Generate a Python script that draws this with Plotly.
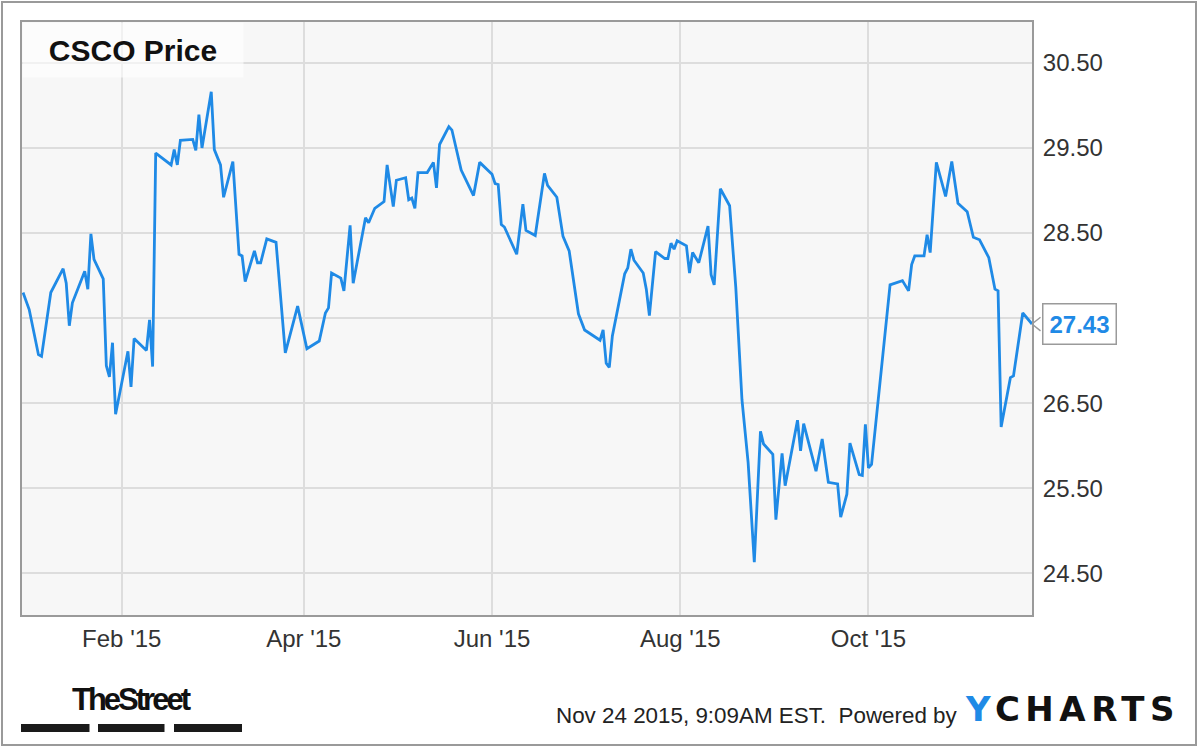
import plotly.graph_objects as go

# ---- data (CSCO daily price, Dec 2014 - Nov 2015) ----
dates = [
    "2014-12-31", "2015-01-02", "2015-01-05", "2015-01-06", "2015-01-09", "2015-01-13",
    "2015-01-14", "2015-01-15", "2015-01-16", "2015-01-20", "2015-01-21", "2015-01-22",
    "2015-01-23", "2015-01-26", "2015-01-27", "2015-01-28", "2015-01-29", "2015-01-30",
    "2015-02-03", "2015-02-04", "2015-02-05", "2015-02-09", "2015-02-10", "2015-02-11",
    "2015-02-12", "2015-02-17", "2015-02-18", "2015-02-19", "2015-02-20", "2015-02-24",
    "2015-02-25", "2015-02-26", "2015-02-27", "2015-03-02", "2015-03-03", "2015-03-05",
    "2015-03-06", "2015-03-09", "2015-03-11", "2015-03-12", "2015-03-13", "2015-03-16",
    "2015-03-17", "2015-03-18", "2015-03-20", "2015-03-23", "2015-03-26", "2015-03-30",
    "2015-04-02", "2015-04-06", "2015-04-08", "2015-04-09", "2015-04-10", "2015-04-13",
    "2015-04-14", "2015-04-16", "2015-04-17", "2015-04-21", "2015-04-22", "2015-04-24",
    "2015-04-27", "2015-04-28", "2015-04-30", "2015-05-01", "2015-05-04", "2015-05-05",
    "2015-05-06", "2015-05-07", "2015-05-08", "2015-05-11", "2015-05-13", "2015-05-14",
    "2015-05-15", "2015-05-18", "2015-05-19", "2015-05-22", "2015-05-26", "2015-05-28",
    "2015-06-01", "2015-06-02", "2015-06-03", "2015-06-04", "2015-06-05", "2015-06-09",
    "2015-06-11", "2015-06-12", "2015-06-15", "2015-06-18", "2015-06-19", "2015-06-22",
    "2015-06-24", "2015-06-26", "2015-06-29", "2015-07-01", "2015-07-06", "2015-07-07",
    "2015-07-08", "2015-07-09", "2015-07-10", "2015-07-14", "2015-07-15", "2015-07-16",
    "2015-07-17", "2015-07-20", "2015-07-21", "2015-07-22", "2015-07-24", "2015-07-27",
    "2015-07-28", "2015-07-29", "2015-07-30", "2015-07-31", "2015-08-03", "2015-08-04",
    "2015-08-05", "2015-08-07", "2015-08-10", "2015-08-11", "2015-08-12", "2015-08-14",
    "2015-08-17", "2015-08-19", "2015-08-21", "2015-08-23", "2015-08-25", "2015-08-27",
    "2015-08-28", "2015-08-31", "2015-09-01", "2015-09-03", "2015-09-04", "2015-09-08",
    "2015-09-09", "2015-09-10", "2015-09-14", "2015-09-16", "2015-09-18", "2015-09-21",
    "2015-09-22", "2015-09-24", "2015-09-25", "2015-09-28", "2015-09-29", "2015-09-30",
    "2015-10-01", "2015-10-02", "2015-10-08", "2015-10-12", "2015-10-14", "2015-10-15",
    "2015-10-16", "2015-10-19", "2015-10-20", "2015-10-21", "2015-10-23", "2015-10-26",
    "2015-10-28", "2015-10-30", "2015-11-02", "2015-11-04", "2015-11-06", "2015-11-09",
    "2015-11-11", "2015-11-12", "2015-11-13", "2015-11-16", "2015-11-17", "2015-11-20",
    "2015-11-23",
]
prices = [
    27.80, 27.60, 27.07, 27.05, 27.80, 28.08,
    27.91, 27.41, 27.68, 28.05, 27.84, 28.49,
    28.19, 27.96, 26.94, 26.81, 27.21, 26.37,
    27.11, 26.69, 27.26, 27.12, 27.48, 26.93,
    29.44, 29.30, 29.48, 29.30, 29.59, 29.60,
    29.47, 29.89, 29.50, 30.16, 29.48, 29.30,
    28.92, 29.34, 28.25, 28.23, 27.93, 28.29,
    28.15, 28.15, 28.43, 28.39, 27.09, 27.64,
    27.14, 27.23, 27.56, 27.62, 28.03, 27.97,
    27.82, 28.59, 27.91, 28.68, 28.62, 28.79,
    28.87, 29.30, 28.81, 29.12, 29.15, 28.89,
    28.91, 28.79, 29.21, 29.21, 29.33, 29.03,
    29.54, 29.75, 29.71, 29.24, 28.94, 29.33,
    29.19, 29.08, 29.07, 28.60, 28.57, 28.25,
    28.84, 28.53, 28.47, 29.20, 29.06, 28.92,
    28.46, 28.29, 27.55, 27.36, 27.24, 27.36,
    26.97, 26.92, 27.29, 28.02, 28.09, 28.31,
    28.18, 28.03, 27.84, 27.53, 28.28, 28.20,
    28.20, 28.38, 28.31, 28.41, 28.35, 28.03,
    28.27, 28.15, 28.58, 28.01, 27.89, 29.02,
    28.82, 27.86, 26.54, 25.80, 24.63, 26.17,
    26.02, 25.90, 25.13, 25.91, 25.53, 26.30,
    25.94, 26.26, 25.70, 26.08, 25.57, 25.55,
    25.16, 25.43, 26.03, 25.66, 25.65, 26.25,
    25.74, 25.78, 27.89, 27.94, 27.82, 28.13,
    28.23, 28.23, 28.48, 28.27, 29.33, 28.93,
    29.34, 28.85, 28.75, 28.45, 28.42, 28.21,
    27.84, 27.82, 26.22, 26.80, 26.82, 27.56,
    27.43,
]
y_ticks = [24.5, 25.5, 26.5, 27.5, 28.5, 29.5, 30.5]
y_tick_text = ["24.50", "25.50", "26.50", "", "28.50", "29.50", "30.50"]
title_text = "CSCO Price"
last_label = "27.43"
stamp_text = "Nov 24 2015, 9:09AM EST.  Powered by"

LINE = "#1f8ae6"
FONT = "Liberation Sans, Arial, sans-serif"

# plot-area geometry in pixels (for decorations only)
L, R, T, B = 22, 1032, 22, 615
def px(x):
    return (x - L) / (R - L)
def py(y):
    return (B - y) / (B - T)

fig = go.Figure()
fig.add_trace(go.Scatter(
    x=dates, y=prices, mode="lines",
    line=dict(color=LINE, width=2.8),
    hoverinfo="x+y", showlegend=False,
))

annotations = [
    # title box
    dict(xref="paper", yref="paper", x=0, y=1, xanchor="left", yanchor="top",
         text="<b>" + title_text + "</b>", showarrow=False,
         font=dict(family=FONT, size=30, color="#111111"),
         width=220, height=54, borderpad=0, bgcolor="rgba(255,255,255,0.6)"),
    # last value label
    dict(xref="paper", yref="y", x=1, y=prices[-1], xanchor="left", yanchor="middle",
         xshift=10, text="<b>" + last_label + "</b>", showarrow=False,
         font=dict(family=FONT, size=24, color=LINE),
         bgcolor="white", bordercolor="#9a9a9a", borderwidth=1.5, borderpad=6),
    # TheStreet logo text
    dict(xref="paper", yref="paper", x=px(131), y=py(699), xanchor="center", yanchor="middle",
         text="<span style='letter-spacing:-3px'><b>TheStreet</b></span>", showarrow=False,
         font=dict(family=FONT, size=31, color="#111111")),
    # time stamp
    dict(xref="paper", yref="paper", x=px(960), y=py(716), xanchor="right", yanchor="middle",
         text=stamp_text, showarrow=False,
         font=dict(family=FONT, size=22.4, color="#222222")),
    # YCHARTS logo
    dict(xref="paper", yref="paper", x=px(963), y=py(709), xanchor="left", yanchor="middle",
         text="<span style='letter-spacing:5.5px'><b><span style='color:" + LINE + "'>Y</span>CHARTS</b></span>",
         showarrow=False,
         font=dict(family="DejaVu Sans, sans-serif", size=34, color="#111111")),
]
# chevron pointer of the last-value label
for dy in (-8, 8):
    annotations.append(dict(xref="paper", yref="y", x=1, y=prices[-1], text="",
                            showarrow=True, arrowhead=0, arrowwidth=1.5, arrowcolor="#9a9a9a",
                            ax=10, ay=dy, standoff=0))

shapes = [
    # outer frame
    dict(type="rect", xref="paper", yref="paper", x0=px(2), x1=px(1196), y0=py(745), y1=py(2),
         line=dict(color="#9a9a9a", width=2), fillcolor="rgba(0,0,0,0)", layer="below"),
]
for x0, x1 in ((21, 89.5), (98, 164.5), (174, 242)):
    shapes.append(dict(type="rect", xref="paper", yref="paper", x0=px(x0), x1=px(x1),
                       y0=py(732), y1=py(724), line=dict(width=0), fillcolor="#1a1a1a"))

fig.update_layout(
    width=1200, height=747,
    margin=dict(l=L, r=1200 - R, t=T, b=747 - B),
    paper_bgcolor="white", plot_bgcolor="#f7f7f7",
    font=dict(family=FONT, color="#333333"),
    showlegend=False,
    annotations=annotations,
    shapes=shapes,
    xaxis=dict(
        type="date", range=["2014-12-30 16:00", "2015-11-23"],
        tick0="2015-02-01", dtick="M2", tickformat="%b '%y",
        showgrid=True, gridcolor="#dddddd", gridwidth=1.5,
        showline=True, linecolor="#9a9a9a", linewidth=2, mirror=True,
        ticks="", tickfont=dict(size=24, color="#333333"), ticklabelstandoff=1,
        zeroline=False,
    ),
    yaxis=dict(
        side="right", range=[24.01, 30.98],
        tickvals=y_ticks, ticktext=y_tick_text,
        showgrid=True, gridcolor="#dddddd", gridwidth=1.5,
        showline=True, linecolor="#9a9a9a", linewidth=2, mirror=True,
        ticks="", tickfont=dict(size=24, color="#333333"), ticklabelstandoff=4,
        zeroline=False,
    ),
)

fig.write_html("out.html",
               config={"displayModeBar": False},
               post_script="document.body.style.margin='0';document.body.style.padding='0';")
